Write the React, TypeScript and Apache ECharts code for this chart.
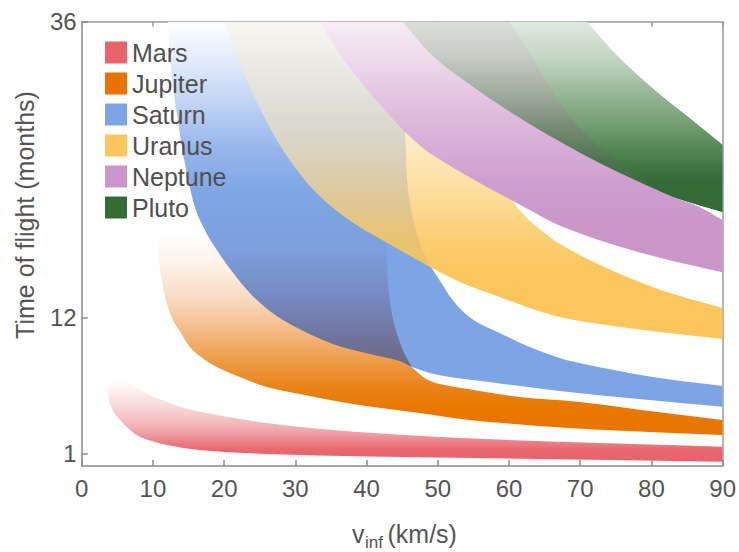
import React, { useEffect, useRef } from 'react';
import * as echarts from 'echarts';

// ---------- data ----------
const planets = ['Mars', 'Jupiter', 'Saturn', 'Uranus', 'Neptune', 'Pluto'];
const planetColors = ['#E9636B', '#E97300', '#7DA4E4', '#FDC65C', '#CA96CA', '#346B36'];

const yTickValues = [1, 12, 36];
const rightTickValues = [1, 3.3, 12];

// Mars
const marsUpper = [[3.55, 6.15], [4.25, 6.64], [5.5, 6.88], [7.5, 6.4], [9.6, 5.75], [13.1, 4.94], [16.6, 4.4], [26, 3.48], [35.2, 2.91], [40.4, 2.7], [51.7, 2.31], [65.7, 1.99], [79.7, 1.74], [90, 1.56]];
const marsLower = [[3.55, 6.15], [3.97, 5.1], [4.5, 4.37], [5.4, 3.72], [6.8, 2.91], [8.2, 2.35], [12, 1.7], [16.6, 1.3], [26, 0.97], [40.4, 0.77], [63.9, 0.57], [90, 0.35]];

// Jupiter
const jupiterLower = [[10.56, 18.88], [10.84, 16.69], [11.26, 15.07], [11.82, 13.45], [12.81, 11.83], [13.93, 10.78], [15.19, 9.64], [16.73, 8.83], [18.97, 8.02], [22.21, 7.21], [26.0, 6.4], [30.62, 5.83], [35.25, 5.31], [40.44, 4.82], [47.45, 4.29], [54.47, 3.73], [68.49, 3.08], [79.71, 2.76], [90, 2.51]];
const jupiterUpper = [[46.33, 8.02], [48.15, 7.13], [50.26, 6.64], [55.87, 6.08], [61.48, 5.59], [69.89, 5.19], [79.71, 4.46], [90, 3.73]];
const jupiterHidden = [[20.8, 18.88], [25, 15.88], [30.62, 13.45], [37.63, 11.02], [43.25, 9.4], [46.33, 8.02]];

// Saturn
const saturnLower = [[12.11, 36], [12.39, 33.3], [12.81, 30.71], [13.5, 28.04], [14.21, 25.36], [15.61, 21.56], [16.59, 19.94], [18.97, 17.5], [23.61, 14.02], [28.24, 11.83], [35.25, 9.89], [40.44, 9.08], [44.65, 8.51], [46.33, 8.02]];
const saturnTop = [[21.08, 36], [22.62, 33.31], [24.59, 30.71], [26.7, 28.2], [29.2, 25.85], [32.3, 23.58], [34.8, 22.12], [37.9, 20.75], [41.4, 19.45], [45.5, 18.15], [49.14, 16.94]];
const saturnCorner = [48.17, 11.83];
const saturnBLeft = [[42.69, 18.64], [42.83, 17.34], [42.97, 15.07], [43.25, 13.45], [43.67, 11.99], [44.23, 10.78], [45.21, 9.24], [46.33, 8.02]];
const saturnBLower = [[46.33, 8.02], [48.86, 7.54], [51.67, 7.21], [58.67, 6.69], [67.08, 6.08], [79.71, 5.35], [90, 4.81]];
const saturnBUpper = [[49.14, 16.05], [50.68, 14.67], [52.09, 13.45], [53.77, 12.4], [55.45, 11.67], [58.67, 10.78], [62.89, 9.64], [67.08, 8.75], [69.89, 8.35], [75.5, 7.7], [81.12, 7.13], [90, 6.48]];
const saturnBHidden = [[42.69, 18.64], [46.05, 17.5], [49.14, 16.05]];

// Uranus
const uranusLower = [[20.1, 36], [21.64, 33.31], [23.61, 30.71], [25.71, 28.2], [28.24, 25.61], [31.32, 23.18], [33.85, 21.64], [36.94, 20.18], [40.44, 18.88], [44.65, 17.5], [49.14, 16.05]];
const uranusTop = [[34.8, 36], [36.5, 34.2], [39, 32.2], [43, 29.5], [47, 27.2], [49.5, 26.2]];
const uranusCorner = [[50.3, 18.5], [50, 22]];
const uranusBLeft = [[45.3, 29.7], [45.59, 24.23], [45.9, 21.96], [46.47, 20.18], [47.2, 18.56], [47.88, 17.5], [49.14, 16.05]];
const uranusBLower = [[49.14, 16.05], [53.77, 14.75], [58.67, 13.7], [62.89, 12.8], [67.08, 12.07], [72.7, 11.5], [81.12, 10.86], [90, 10.29]];
const uranusBUpper = [[60.8, 21.2], [62.5, 20.1], [64.3, 19.2], [67.1, 18.0], [72.7, 16.3], [81.1, 14.3], [90, 12.8]];
const uranusBHidden = [[45.3, 29.7], [48.5, 29.5], [53, 27.5], [57, 25.0], [59.5, 22.8], [60.8, 21.2]];

// Neptune
const neptuneLower = [[33.4, 36], [35.5, 34], [38, 32], [42, 29.2], [45.5, 27.0], [49, 25.3], [56, 22.9], [60.5, 21.5], [64, 20.4], [67, 19.5], [72.7, 18.3], [81, 16.9], [90, 15.7]];
const neptuneUpper = [[83.51, 21.72], [86.7, 20.99], [90, 19.94]];
const neptuneHidden = [[46.05, 36], [50.26, 33.31], [58.67, 29.82], [67.8, 26.7], [72.7, 25.2], [79.71, 23.18], [83.51, 21.72]];

// Pluto
const plutoLower = [[45.07, 36], [48.86, 33.47], [53.07, 31.5], [58.25, 29.42], [62.89, 27.71], [67.5, 26.17], [72.7, 24.55], [78.31, 23.01], [83.51, 21.72], [90, 20.58]];
const plutoUpper = [[70.88, 36], [75.5, 33.06], [80.42, 30.47], [85.33, 28.2], [90, 26.01]];
const plutoBLeft = [[60.08, 36], [62.18, 34.12], [64.29, 32.09], [66.67, 29.9], [68.91, 28.04], [72.7, 25.85], [76.91, 23.99], [81.12, 22.31]];

// ---------- styles ----------
const FONT = '"Liberation Sans", Arial, Helvetica, sans-serif';
const TEXT = '#555555';

const marsStops = [[0, '#FFFFFF'], [0.12, '#FDF0F0'], [0.35, '#F8D3D5'], [0.5, '#F4BEC1'], [0.65, '#EF9EA3'], [0.75, '#EC8288'], [0.85, '#E9676F'], [1, '#E8626A']];
const jupiterStops = [[0, '#FFFFFF'], [0.15, '#FDF3EA'], [0.33, '#F8DABF'], [0.5, '#F3B77E'], [0.63, '#EE9C48'], [0.75, '#EA861D'], [0.85, '#E87800'], [1, '#E87500']];
const saturnAStops = [[0, '#FDFEFF'], [0.11, '#E3ECFB'], [0.23, '#C2D5F4'], [0.37, '#96B6EB'], [0.49, '#7FA6E5'], [0.66, '#7C9FDC'], [0.8, '#7788C0'], [0.92, '#6F739A'], [1, '#6A6885']];
const saturnBStops = [[0, '#7DA4E4'], [1, '#7DA4E4']];
const uranusAStops = [[0, '#F8F7F2'], [0.16, '#ECEBE5'], [0.32, '#E0DFD8'], [0.48, '#D9D6C8'], [0.64, '#DBCCA8'], [0.77, '#E1C68B'], [0.89, '#EAC371'], [1, '#EEC468']];
const uranusBStops = [[0, '#FEF4DF'], [0.15, '#FDEDCA'], [0.3, '#FDE4AE'], [0.45, '#FCD890'], [0.6, '#FCCD6E'], [0.72, '#FDC75E'], [1, '#FDC65C']];
const neptuneStops = [[0, '#F7EEF5'], [0.16, '#EDD9EA'], [0.31, '#E2C3E1'], [0.47, '#D8B0D8'], [0.63, '#CFA0CF'], [0.79, '#CB97CB'], [1, '#CA96CA']];
const plutoAStops = [[0, '#DCDEDA'], [0.2, '#C4C9C2'], [0.41, '#99A596'], [0.57, '#738970'], [0.73, '#4D744E'], [0.88, '#376B38'], [1, '#336B35']];
const plutoBStops = [[0, '#E0E9DF'], [0.2, '#C2D5C1'], [0.41, '#8FB18E'], [0.57, '#6C996C'], [0.73, '#467B47'], [0.84, '#346B36'], [1, '#336B35']];

const rev = (a: number[][]) => a.slice().reverse();

// Build a closed path from a list of edges; each edge is drawn as a smooth curve
// through its points, and edges meet at sharp corners.
function pathFrom(edgesPx: number[][][]) {
  let d = '';
  const f = (v: number) => v.toFixed(2);
  edgesPx.forEach((px, ei) => {
    d += (ei === 0 ? 'M' : 'L') + f(px[0][0]) + ',' + f(px[0][1]);
    for (let i = 0; i < px.length - 1; i++) {
      const p0 = px[Math.max(i - 1, 0)];
      const p1 = px[i];
      const p2 = px[i + 1];
      const p3 = px[Math.min(i + 2, px.length - 1)];
      const len = Math.hypot(p2[0] - p1[0], p2[1] - p1[1]);
      const a = [p2[0] - p0[0], p2[1] - p0[1]];
      const b = [p3[0] - p1[0], p3[1] - p1[1]];
      const la = Math.hypot(a[0], a[1]) || 1;
      const lb = Math.hypot(b[0], b[1]) || 1;
      const c1 = [p1[0] + (a[0] / la) * len / 3, p1[1] + (a[1] / la) * len / 3];
      const c2 = [p2[0] - (b[0] / lb) * len / 3, p2[1] - (b[1] / lb) * len / 3];
      d += 'C' + f(c1[0]) + ',' + f(c1[1]) + ' ' + f(c2[0]) + ',' + f(c2[1]) + ' ' + f(p2[0]) + ',' + f(p2[1]);
    }
  });
  return d + 'Z';
}

function band(name: string, edges: number[][][], stops: (string | number)[][]) {
  const pts = edges.flat();
  return {
    type: 'custom',
    name,
    coordinateSystem: 'cartesian2d',
    silent: true,
    data: pts,
    encode: { x: 0, y: 1 },
    renderItem: (params: any, api: any) => {
      if (params.dataIndex !== 0) return null;
      const cs = params.coordSys;
      const edgesPx = edges.map((e) => e.map((p) => api.coord(p)));
      return {
        type: 'path',
        shape: { pathData: pathFrom(edgesPx) },
        style: {
          fill: new echarts.graphic.LinearGradient(0, 0, 0, 1,
            stops.map((s) => ({ offset: s[0] as number, color: s[1] as string }))),
          stroke: 'none',
        },
        clipPath: { type: 'rect', shape: { x: cs.x, y: cs.y, width: cs.width, height: cs.height } },
      };
    },
  };
}

export default function App() {
  const ref = useRef<HTMLDivElement>(null);
  useEffect(() => {
    document.body.style.margin = '0';
    const chart = echarts.init(ref.current!, null, { renderer: 'svg' });

    const axisLine = { show: true, onZero: false, lineStyle: { color: '#8A8A8A', width: 1.5 } };
    const axisLine2 = { show: true, onZero: false, lineStyle: { color: '#9C9C9C', width: 1.5 } };

    chart.setOption({
      animation: false,
      grid: { left: 81.7, right: 15.7, top: 21.7, bottom: 86 },
      xAxis: [
        {
          type: 'value', min: 0, max: 90, interval: 10, position: 'bottom',
          axisLine, axisTick: { inside: true, length: 6, lineStyle: { color: '#8A8A8A', width: 1.5 } },
          axisLabel: { margin: 10, fontSize: 24, color: TEXT, fontFamily: FONT },
          splitLine: { show: false },
        },
        {
          type: 'value', min: 0, max: 90, interval: 10, position: 'top',
          axisLine: axisLine2, axisTick: { inside: true, length: 5, lineStyle: { color: '#9C9C9C', width: 1.5 } },
          axisLabel: { show: false }, splitLine: { show: false },
        },
      ],
      yAxis: [
        {
          type: 'value', min: 0, max: 36, position: 'left',
          axisLine, axisTick: { inside: true, length: 6, customValues: yTickValues, lineStyle: { color: '#8A8A8A', width: 1.5 } },
          axisLabel: { customValues: yTickValues, margin: 5, fontSize: 24, color: TEXT, fontFamily: FONT },
          splitLine: { show: false },
        },
        {
          type: 'value', min: 0, max: 36, position: 'right',
          axisLine: axisLine2, axisTick: { inside: true, length: 5, customValues: rightTickValues, lineStyle: { color: '#8A8A8A', width: 1.5 } },
          axisLabel: { show: false }, splitLine: { show: false },
        },
      ],
      legend: {
        orient: 'vertical', left: 105, top: 40, padding: 0,
        itemWidth: 22, itemHeight: 22, itemGap: 6, icon: 'rect', selectedMode: false,
        textStyle: { fontSize: 25, color: '#505050', fontFamily: FONT },
        data: planets.map((p, i) => ({ name: p, itemStyle: { color: planetColors[i] } })),
      },
      graphic: [
        { type: 'text', x: 25, y: 215, rotation: Math.PI / 2, style: { text: 'Time of flight (months)', fontSize: 25, fontFamily: FONT, fill: TEXT, align: 'center', verticalAlign: 'middle' } },
        { type: 'text', x: 352, y: 534, style: { text: 'v', fontSize: 25, fontFamily: FONT, fill: TEXT, align: 'left', verticalAlign: 'middle' } },
        { type: 'text', x: 365, y: 542.5, style: { text: 'inf', fontSize: 17, fontFamily: FONT, fill: TEXT, align: 'left', verticalAlign: 'middle' } },
        { type: 'text', x: 387.5, y: 534, style: { text: '(km/s)', fontSize: 25, fontFamily: FONT, fill: TEXT, align: 'left', verticalAlign: 'middle' } },
      ],
      series: [
        band('Mars', [marsUpper, rev(marsLower)], marsStops),
        band('Jupiter', [jupiterLower, rev(jupiterUpper), rev(jupiterHidden)], jupiterStops),
        band('Saturn', [saturnLower, [saturnCorner], rev(saturnTop)], saturnAStops),
        band('Saturn', [saturnBLeft, saturnBLower, rev(saturnBUpper), rev(saturnBHidden)], saturnBStops),
        band('Uranus', [uranusLower, uranusCorner, rev(uranusTop)], uranusAStops),
        band('Uranus', [uranusBLeft, uranusBLower, rev(uranusBUpper), rev(uranusBHidden)], uranusBStops),
        band('Neptune', [neptuneLower, rev(neptuneUpper), rev(neptuneHidden)], neptuneStops),
        band('Pluto', [plutoLower, rev(plutoUpper)], plutoAStops),
        band('Pluto', [plutoBLeft, [plutoBLeft[plutoBLeft.length - 1], ...plutoLower.slice(-2)], rev(plutoUpper)], plutoBStops),
      ],
    });
    return () => chart.dispose();
  }, []);
  return <div ref={ref} style={{ width: 739, height: 552 }} />;
}
